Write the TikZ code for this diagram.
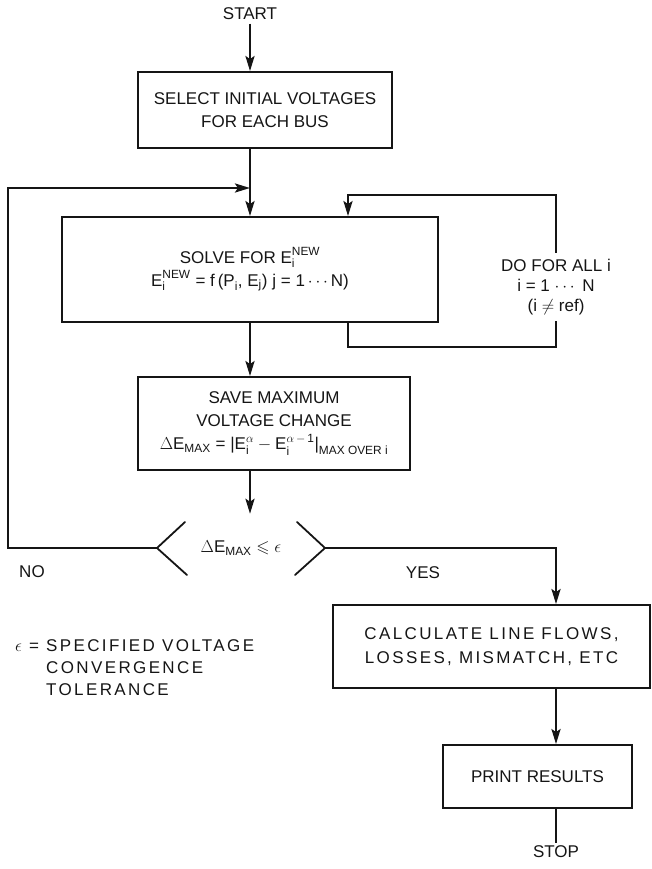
\documentclass[tikz,border=0pt]{standalone}
\usepackage{amsmath,amssymb}
\usepackage{fontspec}
\setmainfont{Liberation Sans}
\newfontfamily\widefont[LetterSpace=14]{Liberation Sans}
\usepackage{tikz}
\usetikzlibrary{arrows.meta,calc}
\definecolor{fink}{HTML}{151515}
\newcommand{\teq}{\mathrel{\text{=}}}

\begin{document}
\begin{tikzpicture}[x=1pt,y=-1pt,
  every node/.style={font=\fontsize{17}{23}\selectfont,text=fink},
  procbox/.style={draw=fink,line width=1.8pt,align=center,inner sep=0pt},
  flow/.style={draw=fink,line width=2.6pt,-{Stealth[length=15pt,width=9pt,inset=3pt]}},
  wire/.style={draw=fink,line width=2.6pt},
  chev/.style={draw=fink,line width=1.8pt,line cap=round}]
  \useasboundingbox (0,0) rectangle (652,869);

  \coordinate (spine) at (250,0);
  \coordinate (spine2) at (556,0);

  % main column
  \node (start) at (250,14) {START};
  \node[procbox,minimum width=254pt,minimum height=76pt] (init) at (265,110)
    {SELECT INITIAL VOLTAGES\\FOR EACH BUS};
  \node[procbox,minimum width=376pt,minimum height=105pt] (solve) at (250,269.5)
    {SOLVE FOR $\text{E}_{\text{i}}^{\text{NEW}}$\\
     $\text{E}_{\text{i}}^{\text{NEW}} \teq \text{f\,(P}_{\text{i}}\text{,\ E}_{\text{j}}\text{)\ j} \teq \text{1} \cdots \text{N)}$};
  \node[procbox,minimum width=272pt,minimum height=93pt] (save) at (274,423.5)
    {SAVE MAXIMUM\\VOLTAGE CHANGE\\
     $\Delta\text{E}_{\text{MAX}} \teq \text{|E}_{\text{i}}^{\alpha} - \text{E}_{\text{i}}^{\alpha\,-\,\text{1}}\text{|}_{\text{MAX OVER i}}$};

  % decision
  \node[minimum width=140pt,minimum height=68pt] (test) at (241,548)
    {$\Delta\text{E}_{\text{MAX}} \leqslant \epsilon$};
  \coordinate (lv) at (157,548);
  \coordinate (rv) at (325,548);
  \draw[chev] (185,522) -- (lv) -- (187,575);
  \draw[chev] (297,522) -- (rv) -- (295,575);
  \node (no) at (32,572) {NO};
  \node (yes) at (423,573) {YES};

  % output column
  \node[procbox,minimum width=317pt,minimum height=83pt,font=\fontsize{17}{24}\widefont] (calc) at (491.5,646.5)
    {CALCULATE LINE FLOWS,\\LOSSES, MISMATCH, ETC};
  \node[procbox,minimum width=189pt,minimum height=63pt] (print) at (537.5,776.5)
    {PRINT RESULTS};
  \node[inner sep=3pt] (stop) at (556,852) {STOP};

  % inner loop label and note
  \node[align=center,inner sep=6pt,font=\fontsize{17}{20}\selectfont] (doall) at (556,287)
    {DO FOR ALL i\\i = 1 $\cdots$ N\\(i $\neq$ ref)};
  \node[anchor=west,inner sep=0pt,align=left,font=\fontsize{17}{22}\widefont] (tol) at (15,668)
    {$\epsilon$ = SPECIFIED VOLTAGE\\
     \hphantom{$\epsilon$ = }CONVERGENCE\\
     \hphantom{$\epsilon$ = }TOLERANCE};

  % connectors
  \draw[flow] (start) -- (start |- init.north);
  \draw[flow] (init.south -| spine) -- (solve.north -| spine);
  \draw[flow] (solve.south -| spine) -- (save.north -| spine);
  \draw[flow] (save.south -| spine) -- (test.north -| spine);

  \coordinate (lcorner) at (8,188);
  \draw[flow] (lv) -| (lcorner) -- (lcorner -| spine);

  \coordinate (rtop) at (348,195);
  \coordinate (rbot) at (348,347);
  \draw[flow] (doall.north) |- (rtop) -- (rtop |- solve.north);
  \draw[wire] (doall.south) |- (rbot) -- (rbot |- solve.south);

  \draw[flow] (rv) -| (calc.north -| spine2);
  \draw[flow] (calc.south -| spine2) -- (print.north -| spine2);
  \draw[wire] (print.south -| spine2) -- (stop.north);
\end{tikzpicture}
\end{document}
